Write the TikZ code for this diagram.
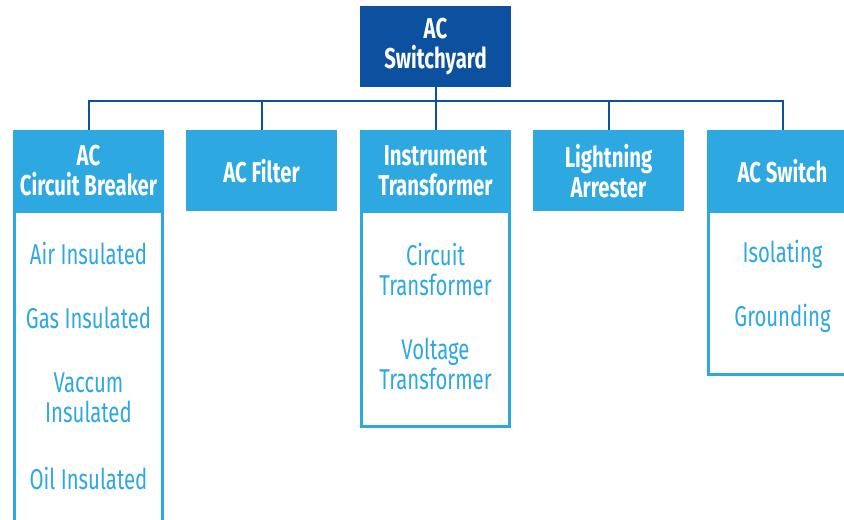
\documentclass[tikz,border=0pt]{standalone}
\usepackage{fontspec}
\setmainfont{Fira Sans}[FakeStretch=0.71]
\usepackage{tikz}
\usetikzlibrary{positioning}
\definecolor{dark_c}{RGB}{11,81,160}
\definecolor{light_c}{RGB}{45,168,224}
\begin{document}
\begin{tikzpicture}[x=0.75pt, y=-0.75pt,
  every node/.style={font=\fontsize{21.5}{22.5}\selectfont},
  rootbox/.style={fill=dark_c, text=white, font=\fontsize{21.5}{22.5}\selectfont\bfseries,
                  minimum width=113.25pt, minimum height=60.75pt, align=center, inner sep=0pt},
  headbox/.style={rootbox, fill=light_c},
  listbox/.style={draw=light_c, line width=2.25pt, minimum width=110.6pt, inner sep=0pt},
  item/.style={text=light_c, align=center},
  link/.style={draw=dark_c, line width=1.5pt},
]
\useasboundingbox (0,0) rectangle (844,520);
\clip (0,0) rectangle (844,520);
% lists under the headers
\node[listbox, minimum height=261pt]    (brklist) at (88.5,386)    {};
\node[listbox, minimum height=160.9pt]  (itrlist) at (435.5,319.25) {};
\node[listbox, minimum height=121.9pt]  (swlist)  at (782.5,293.25) {};
% boxes
\node[rootbox] (yard) at (435.5,46.5) {AC\\Switchyard};
\node[headbox] (brk) at (88.5,171)  {AC\\Circuit Breaker};
\node[headbox] (flt) at (261.5,171) {AC Filter};
\node[headbox] (itr) at (435.5,171) {Instrument\\Transformer};
\node[headbox] (arr) at (608.5,171) {Lightning\\Arrester};
\node[headbox] (sw)  at (782.5,171) {AC Switch};
% tree lines
\coordinate (bus) at (435.5,101);
\draw[link] (yard) -- (bus);
\foreach \h in {brk,flt,itr,arr,sw}
  \draw[link] (bus) -| (\h.north);
% items
\node[item] (air) at (88.5,253)  {Air Insulated};
\node[item] (gas) at (88.5,318)  {Gas Insulated};
\node[item] (vac) at (88.5,398)  {Vaccum\\Insulated};
\node[item] (oil) at (88.5,478)  {Oil Insulated};
\node[item] (ct)  at (435.5,269) {Circuit\\Transformer};
\node[item] (vt)  at (435.5,364) {Voltage\\Transformer};
\node[item] (iso) at (782.5,254) {Isolating};
\node[item] (gnd) at (782.5,318) {Grounding};
\end{tikzpicture}
\end{document}
